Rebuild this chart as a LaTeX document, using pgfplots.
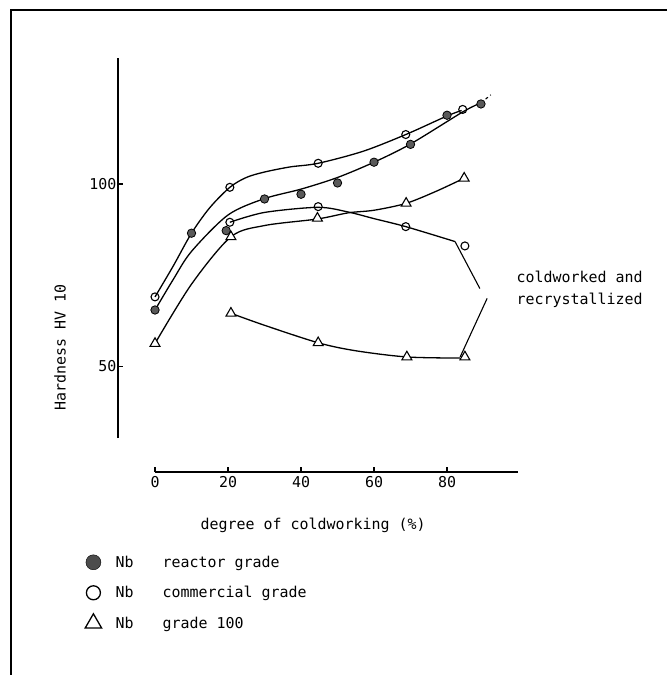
\documentclass[border=0pt]{standalone}
\usepackage{pgfplots}
\pgfplotsset{compat=1.18}
\usepackage{fontspec}
\setmainfont{DejaVu Sans Mono}
\newcommand{\tfont}{\fontsize{15}{22}\selectfont}
\begin{document}
\begin{tikzpicture}[x=1bp,y=1bp]
\useasboundingbox (0,0) rectangle (667,675);
\draw[line width=1.4bp] (11,0) -- (11,665) -- (667,665);
\begin{axis}[
  at={(118bp,203bp)}, anchor=south west,
  scale only axis, width=402bp, height=413.9bp,
  xmin=-10.14, xmax=100, ymin=20.9, ymax=134.6,
  axis lines=left, axis line style={draw=none,-},
  clip=false,
  xtick={0,20,40,60,80}, ytick={50,100},
  major tick length=5bp,
  tick style={black, line width=1.1bp},
  tick align=inside,
  /pgf/number format/assume math mode=true,
  tick label style={font=\tfont},
  xticklabel style={yshift=-1bp},
  yticklabel style={xshift=2bp},
  legend style={draw=none, fill=none, inner sep=0pt, row sep=0pt, column sep=0pt,
    at={(axis cs:-20,0.34)}, anchor=north west,
    nodes={inner sep=0pt, minimum height=30.5bp, font=\tfont}},
  legend cell align=left,
  legend image code/.code={\path (-11bp,0bp) (22bp,0bp); \draw[#1] plot coordinates {(0bp,0bp)};},
]
% axis lines
\draw[line width=1.3bp] (axis cs:-10.14,30.2) -- (axis cs:-10.14,134.6);
\draw[line width=1.3bp] (axis cs:0,20.9) -- (axis cs:99.5,20.9);

% curves
\addplot[forget plot, black, line width=1.3bp, smooth, no marks] coordinates {
 (0,65.4) (5,73.8) (10,81.5) (20,91.5) (30,96) (40,98.6) (50,101.8) (60,106) (70,111) (84.3,119.8) (89.3,122.3)};
\addplot[forget plot, black, line width=1.1bp, dashed, no marks] coordinates {(89.3,122.3) (92,124.5)};
\addplot[forget plot, black, line width=1.3bp, smooth, no marks] coordinates {
 (0,69) (5,77.5) (10,86.5) (15,93.5) (20.5,99.1) (25,101.8) (30,103.3) (37,104.7) (44.7,105.7) (57,109) (68.7,113.6) (80,118.7) (84,120.2)};
\addplot[forget plot, black, line width=1.3bp, smooth, no marks] coordinates {
 (20.5,89.5) (30,92.2) (44.7,93.6) (53,92.3) (60,90.5) (68.7,88.3) (82.2,84.2)};
\addplot[forget plot, black, line width=1.3bp, smooth, no marks] coordinates {
 (0,56.2) (10,72.5) (20.8,85.5) (30,88.6) (44.5,90.4) (53,92.1) (60,92.8) (68.8,94.7) (77,98) (84.7,101.6)};
\addplot[forget plot, black, line width=1.3bp, smooth, no marks] coordinates {
 (20.8,64.5) (30,61.2) (44.7,56.4) (55,54.2) (69,52.5) (83.6,52.2)};
% callout lines
\draw[line width=1.1bp] (axis cs:82.2,84.2) -- (axis cs:89,71.3);
\draw[line width=1.1bp] (axis cs:91,68.6) -- (axis cs:83.6,52.5);

% markers
\addplot[forget plot, only marks, mark=*, mark size=4.2bp, mark options={fill=black!65, draw=black, line width=0.8bp}] coordinates {
 (0,65.4) (10,86.5) (19.5,87.2) (30,95.9) (40,97.2) (50,100.3) (60,106) (70,110.9) (80,118.9) (89.3,122)};
\addplot[forget plot, only marks, mark=o, mark size=4bp, mark options={fill=white, draw=black, line width=1.1bp}] coordinates {
 (0,69) (20.5,99.1) (20.5,89.5) (44.7,105.7) (44.7,93.8) (68.7,113.6) (68.7,88.3) (84.3,120.5) (84.9,83)};
\addplot[forget plot, only marks, mark=triangle*, mark size=5.7bp, mark options={fill=white, draw=black, line width=1.1bp}] coordinates {
 (0,56.2) (20.8,85.5) (20.8,64.5) (44.5,90.6) (44.7,56.4) (68.8,94.7) (69,52.5) (84.7,101.6) (84.9,52.5)};

% legend
\addlegendimage{only marks, mark=*, mark size=7.5bp, mark options={fill=black!70, draw=black}}
\addlegendentry{\makebox[47bp][l]{Nb}reactor grade}
\addlegendimage{only marks, mark=o, mark size=7bp, mark options={draw=black, line width=1.3bp}}
\addlegendentry{\makebox[47bp][l]{Nb}commercial grade}
\addlegendimage{only marks, mark=triangle, mark size=9.5bp, mark options={draw=black, line width=1.3bp}}
\addlegendentry{\makebox[47bp][l]{Nb}grade 100}

% labels
\node[font=\tfont] at (axis cs:43.3,6.32) {degree of coldworking (\%)};
\node[font=\tfont, rotate=90] at (axis cs:-26,55) {Hardness HV 10};
\node[font=\tfont, anchor=west, align=left] at (axis cs:98.1,71.2) {coldworked and\\recrystallized};
\end{axis}
\end{tikzpicture}
\end{document}
